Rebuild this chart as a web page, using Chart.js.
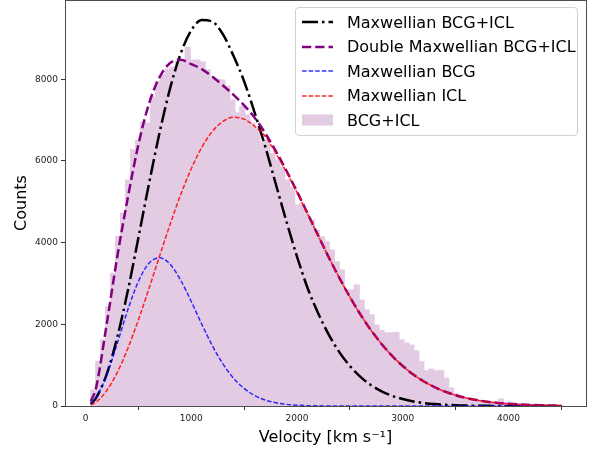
<!DOCTYPE html>
<html>
<head>
<meta charset="utf-8">
<title>Velocity distribution BCG+ICL</title>
<script src="https://cdn.jsdelivr.net/npm/chart.js@4.4.1/dist/chart.umd.min.js"></script>
<style>
  html, body { margin: 0; padding: 0; background: #fff; }
  .wrap { position: relative; width: 596px; height: 451px; }
  #velocityChart { display: block; }
  .legend {
    position: absolute; left: 295px; top: 7px; width: 283px; height: 129px;
    box-sizing: border-box; border: 1px solid #d0d0d0; border-radius: 4px;
    background: rgba(255, 255, 255, .8); padding: 2px 0 0 6px;
    font: 16px 'DejaVu Sans', sans-serif; color: #000;
  }
  .legend-row { display: flex; align-items: center; height: 24.5px; white-space: nowrap; }
  .legend-row svg { flex: none; margin-right: 14px; }
</style>
</head>
<body>
<div class="wrap">
  <canvas id="velocityChart" width="596" height="451"></canvas>
  <div class="legend" id="legend"></div>
</div>
<script>
// histogram of velocities (km/s), 47 km/s bins starting at 50
const binStart = 50;
const binWidth = 47;
const binCounts = [
  390, 1085, 1620, 2430, 3250, 4150, 4720, 5530, 6270, 6500,
  6950, 6930, 7570, 7950, 8100, 8250, 8300, 8450, 8480, 8780,
  8470, 8470, 8420, 8230, 8000, 8000, 7980, 7830, 7490, 7170,
  7330, 7130, 6930, 6800, 6460, 6500, 6180, 6020, 5850, 5530,
  5360, 4920, 4970, 4700, 4550, 4300, 4140, 4020, 3820, 3530,
  3330, 2840, 2840, 2960, 2590, 2350, 2230, 1980, 1850, 1790,
  1790, 1800, 1620, 1540, 1490, 1350, 1080, 860, 900, 860,
  870, 680, 440, 300, 245, 200, 170, 150, 120, 100,
  100, 90, 170, 80, 70, 60, 50, 45, 40, 30,
  25, 20, 15, 10, 5
];

// fitted curves, sampled at these velocities
const curveVelocity = [50, 100, 200, 300, 400, 500, 600, 700, 800, 900, 1000, 1100, 1200, 1300, 1400, 1500,
  1600, 1700, 1800, 1900, 2000, 2100, 2200, 2300, 2400, 2500, 2600, 2700, 2800, 2900, 3000, 3100, 3200,
  3300, 3400, 3500, 3600, 3700, 3800, 3900, 4000, 4100, 4200, 4300, 4400, 4500];
const singleFit = [50, 200, 775, 1680, 2820, 4120, 5440, 6690, 7780, 8630, 9200, 9450, 9410, 9100, 8570, 7950,
  7180, 6350, 5430, 4520, 3660, 2890, 2270, 1750, 1320, 980, 715, 510, 360, 250, 170, 112, 73,
  47, 30, 18, 11, 7, 4, 2, 1, 0, 0, 0, 0, 0];
const doubleFit = [110, 450, 2000, 3650, 5100, 6400, 7400, 8050, 8400, 8480, 8370, 8250, 8060, 7850, 7620, 7360,
  7060, 6680, 6240, 5760, 5250, 4714, 4174, 3642, 3140, 2670, 2240, 1855, 1520, 1225, 980, 770, 600,
  465, 350, 265, 195, 145, 105, 75, 54, 38, 26, 18, 12, 8];
const bcgFit = [51, 200, 755, 1530, 2355, 3050, 3495, 3630, 3470, 3080, 2560, 2000, 1475, 1030, 680, 430,
  255, 145, 78, 40, 20, 9, 4, 2, 0, 0, 0, 0, 0, 0, 0, 0, 0,
  0, 0, 0, 0, 0, 0, 0, 0, 0, 0, 0, 0, 0];
const iclFit = [24, 95, 375, 820, 1410, 2110, 2875, 3670, 4450, 5175, 5810, 6335, 6725, 6970, 7070, 7025,
  6850, 6600, 6185, 5730, 5230, 4705, 4170, 3640, 3140, 2670, 2240, 1855, 1520, 1225, 980, 770, 600,
  465, 350, 265, 195, 145, 105, 75, 54, 38, 26, 18, 12, 8];

const xTicks = [0, 1000, 2000, 3000, 4000];
const yTicks = [0, 2000, 4000, 6000, 8000];

(function () {
  Chart.defaults.font.family = "'DejaVu Sans', sans-serif";
  Chart.defaults.color = '#222';

  const curve = (values) => values.map((y, i) => ({ x: curveVelocity[i], y }));
  const histogram = binCounts.map((y, i) => ({ x: binStart + binWidth * (i + 0.5), y }));

  // matplotlib-like box around the axes
  const frame = {
    id: 'frame',
    afterDraw(chart) {
      const { ctx, chartArea: a } = chart;
      ctx.save();
      ctx.strokeStyle = '#4d4d4d';
      ctx.lineWidth = 1;
      ctx.strokeRect(a.left + 0.5, a.top + 0.5, a.right - a.left, a.bottom - a.top);
      ctx.restore();
    }
  };

  const tickGrid = { drawOnChartArea: false, drawTicks: true, tickLength: 4, color: '#333' };

  const chart = new Chart(document.getElementById('velocityChart'), {
    type: 'bar',
    data: {
      datasets: [
        { type: 'line', label: 'Maxwellian BCG+ICL', data: curve(singleFit), borderColor: '#000',
          borderWidth: 2.5, borderDash: [16, 4, 2.5, 4], order: 4 },
        { type: 'line', label: 'Double Maxwellian BCG+ICL', data: curve(doubleFit), borderColor: '#800080',
          borderWidth: 2.5, borderDash: [9.25, 4], order: 3 },
        { type: 'line', label: 'Maxwellian BCG', data: curve(bcgFit), borderColor: 'rgba(0, 0, 255, .8)',
          borderWidth: 1.5, borderDash: [4.6, 2], order: 2 },
        { type: 'line', label: 'Maxwellian ICL', data: curve(iclFit), borderColor: 'rgba(255, 0, 0, .85)',
          borderWidth: 1.5, borderDash: [4.6, 2], order: 1 },
        // opaque tint of purple at 20% so neighbouring bars leave no seams
        { type: 'bar', label: 'BCG+ICL', data: histogram, backgroundColor: 'rgb(227, 203, 227)',
          borderWidth: 0, inflateAmount: 0.6, barPercentage: 1, categoryPercentage: 1, order: 10 }
      ]
    },
    options: {
      responsive: false,
      animation: false,
      layout: { padding: { top: 0, right: 10, bottom: 0, left: 0 } },
      elements: {
        point: { radius: 0 },
        line: { fill: false, cubicInterpolationMode: 'monotone' }
      },
      plugins: { legend: { display: false }, tooltip: { enabled: false } },
      scales: {
        x: {
          type: 'linear', min: -194, max: 4733, offset: false,
          afterBuildTicks: (axis) => { axis.ticks = xTicks.map((value) => ({ value })); },
          afterFit: (axis) => {
            axis.height = 45;
            axis.paddingLeft = 0;
            axis.paddingRight = 0;
          },
          grid: tickGrid,
          border: { display: false },
          ticks: { font: { size: 9 }, padding: 3, maxRotation: 0, callback: (v) => String(v) },
          title: { display: true, text: 'Velocity [km s⁻¹]', color: '#000', font: { size: 16 },
            padding: { top: 0, bottom: 4 } }
        },
        y: {
          type: 'linear', min: 0, max: 9942,
          afterBuildTicks: (axis) => { axis.ticks = yTicks.map((value) => ({ value })); },
          afterFit: (axis) => {
            axis.width = 65;
            axis.paddingTop = 0;
            axis.paddingBottom = 0;
          },
          grid: tickGrid,
          border: { display: false },
          ticks: { font: { size: 9 }, padding: 3, callback: (v) => String(v) },
          title: { display: true, text: 'Counts', color: '#000', font: { size: 16 },
            padding: { top: 12, bottom: 0 } }
        }
      }
    },
    plugins: [frame]
  });

  // legend box in the upper right, built from the datasets
  const legend = document.getElementById('legend');
  chart.data.datasets.forEach((ds) => {
    const row = document.createElement('div');
    row.className = 'legend-row';
    const handle = ds.type === 'bar'
      ? `<rect x="0" y="0.5" width="31" height="11" fill="${ds.backgroundColor}"/>`
      : `<line x1="0" y1="6" x2="31" y2="6" stroke="${ds.borderColor}" stroke-width="${ds.borderWidth}" stroke-dasharray="${ds.borderDash.join(' ')}"/>`;
    row.innerHTML = `<svg width="31" height="12">${handle}</svg><span>${ds.label}</span>`;
    legend.appendChild(row);
  });
})();
</script>
</body>
</html>
